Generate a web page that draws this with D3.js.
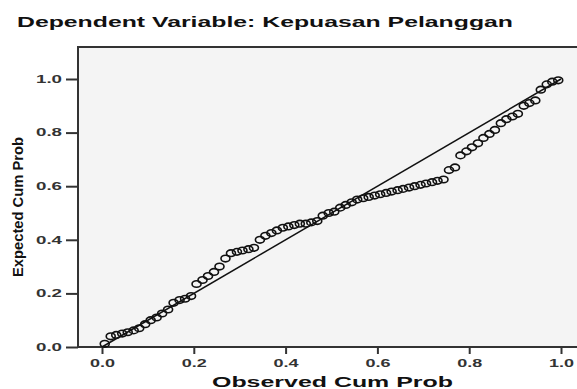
<!DOCTYPE html>
<html>
<head>
<meta charset="utf-8">
<script src="https://cdn.jsdelivr.net/npm/d3@7"></script>
<style>
  html, body { margin: 0; padding: 0; background: #fff; }
  svg { display: block; }
</style>
</head>
<body>
<div id="chart"></div>
<script>
// Normal P-P plot of regression standardized residual
const title = 'Dependent Variable: Kepuasan Pelanggan';
const xTitle = 'Observed Cum Prob';
const yTitle = 'Expected Cum Prob';
const tickValues = [0, 0.2, 0.4, 0.6, 0.8, 1.0];

const observed = [
  0.006, 0.019, 0.031, 0.044, 0.056, 0.069, 0.081, 0.094, 0.106, 0.119,
  0.131, 0.144, 0.156, 0.169, 0.181, 0.194, 0.206, 0.219, 0.231, 0.244,
  0.256, 0.269, 0.281, 0.294, 0.306, 0.319, 0.331, 0.344, 0.356, 0.369,
  0.381, 0.394, 0.406, 0.419, 0.431, 0.444, 0.456, 0.469, 0.481, 0.494,
  0.506, 0.519, 0.531, 0.544, 0.556, 0.569, 0.581, 0.594, 0.606, 0.619,
  0.631, 0.644, 0.656, 0.669, 0.681, 0.694, 0.706, 0.719, 0.731, 0.744,
  0.756, 0.769, 0.781, 0.794, 0.806, 0.819, 0.831, 0.844, 0.856, 0.869,
  0.881, 0.894, 0.906, 0.919, 0.931, 0.944, 0.956, 0.969, 0.981, 0.994
];
const expected = [
  0.012, 0.040, 0.045, 0.050, 0.055, 0.062, 0.070, 0.085, 0.100, 0.110,
  0.125, 0.140, 0.165, 0.175, 0.180, 0.190, 0.235, 0.250, 0.265, 0.280,
  0.300, 0.330, 0.350, 0.355, 0.360, 0.365, 0.370, 0.400, 0.415, 0.425,
  0.435, 0.445, 0.450, 0.455, 0.460, 0.460, 0.465, 0.470, 0.490, 0.500,
  0.505, 0.520, 0.530, 0.540, 0.550, 0.555, 0.560, 0.565, 0.570, 0.575,
  0.580, 0.585, 0.590, 0.595, 0.600, 0.605, 0.610, 0.615, 0.620, 0.625,
  0.660, 0.670, 0.715, 0.730, 0.745, 0.760, 0.780, 0.795, 0.810, 0.835,
  0.850, 0.860, 0.870, 0.900, 0.910, 0.920, 0.960, 0.980, 0.990, 0.995
];

const width = 577;
const height = 389;
const frame = { left: 78, top: 47, right: 580, bottom: 347 };

const svg = d3.select('#chart')
  .append('svg')
  .attr('width', width)
  .attr('height', height);

const x = d3.scaleLinear().domain([0, 1]).range([102, 561]);
const y = d3.scaleLinear().domain([0, 1]).range([347, 79]);

// Plot background
svg.append('rect')
  .attr('x', frame.left)
  .attr('y', frame.top)
  .attr('width', frame.right - frame.left)
  .attr('height', frame.bottom - frame.top)
  .attr('fill', '#f4f4f4');

// Frame lines (left, top, bottom)
svg.append('path')
  .attr('d', `M${frame.right},${frame.top}H${frame.left}V${frame.bottom}H${frame.right}`)
  .attr('fill', 'none')
  .attr('stroke', '#333')
  .attr('stroke-width', 2);

// Y axis
const yAxis = svg.append('g')
  .attr('transform', `translate(${frame.left},0)`)
  .call(d3.axisLeft(y).tickValues(tickValues).tickSize(12).tickPadding(4).tickFormat(d3.format('.1f')));
yAxis.select('.domain').remove();
yAxis.selectAll('.tick line').attr('stroke', '#333').attr('stroke-width', 2);
yAxis.selectAll('.tick text')
  .attr('font-family', 'Liberation Sans, Arial, sans-serif')
  .attr('font-size', '10px')
  .attr('font-weight', 'bold')
  .attr('fill', '#333')
  .attr('textLength', 26)
  .attr('lengthAdjust', 'spacingAndGlyphs');

// X axis
const xAxis = svg.append('g')
  .attr('transform', `translate(0,${frame.bottom})`)
  .call(d3.axisBottom(x).tickValues(tickValues).tickSize(7).tickPadding(6).tickFormat(d3.format('.1f')));
xAxis.select('.domain').remove();
xAxis.selectAll('.tick line').attr('stroke', '#333').attr('stroke-width', 2);
xAxis.selectAll('.tick text')
  .attr('font-family', 'Liberation Sans, Arial, sans-serif')
  .attr('font-size', '10px')
  .attr('font-weight', 'bold')
  .attr('fill', '#333')
  .attr('textLength', 25)
  .attr('lengthAdjust', 'spacingAndGlyphs');

// Reference diagonal
svg.append('line')
  .attr('x1', x(0)).attr('y1', y(0))
  .attr('x2', x(1)).attr('y2', y(1))
  .attr('stroke', '#111')
  .attr('stroke-width', 1.5);

// Points
svg.append('g')
  .selectAll('ellipse')
  .data(observed.map((d, i) => [d, expected[i]]))
  .join('ellipse')
  .attr('cx', d => x(d[0]))
  .attr('cy', d => y(d[1]))
  .attr('rx', 4.5)
  .attr('ry', 3.3)
  .attr('fill', 'none')
  .attr('stroke', '#111')
  .attr('stroke-width', 1.6);

// Titles
svg.append('text')
  .attr('x', 17)
  .attr('y', 27)
  .attr('font-family', 'Liberation Sans, Arial, sans-serif')
  .attr('font-weight', 'bold')
  .attr('font-size', '15px')
  .attr('fill', '#111')
  .attr('textLength', 496)
  .attr('lengthAdjust', 'spacingAndGlyphs')
  .text(title);

svg.append('text')
  .attr('x', 212)
  .attr('y', 387)
  .attr('font-family', 'Liberation Sans, Arial, sans-serif')
  .attr('font-weight', 'bold')
  .attr('font-size', '15px')
  .attr('fill', '#111')
  .attr('textLength', 241)
  .attr('lengthAdjust', 'spacingAndGlyphs')
  .text(xTitle);

svg.append('text')
  .attr('transform', 'translate(23,207) rotate(-90)')
  .attr('text-anchor', 'middle')
  .attr('font-family', 'Liberation Sans Narrow, Arial Narrow, sans-serif')
  .attr('font-weight', 'bold')
  .attr('font-size', '15px')
  .attr('fill', '#111')
  .attr('textLength', 140)
  .attr('lengthAdjust', 'spacingAndGlyphs')
  .text(yTitle);
</script>
</body>
</html>
